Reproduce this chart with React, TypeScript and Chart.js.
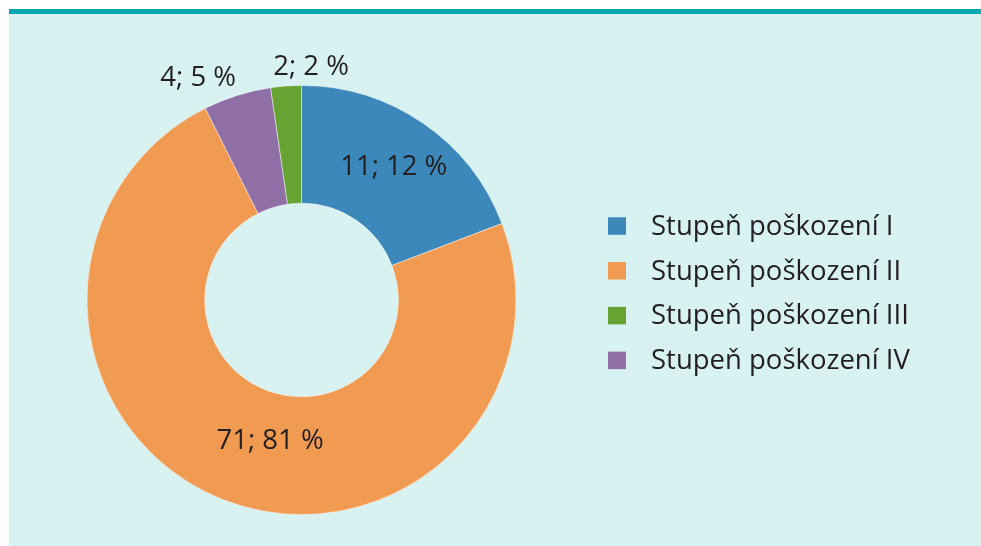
import React, { useEffect, useRef } from "react";
import { Chart, registerables } from "chart.js";

Chart.register(...registerables);

// Legend categories (in legend order)
const categories = [
  "Stupeň poškození I",
  "Stupeň poškození II",
  "Stupeň poškození III",
  "Stupeň poškození IV",
];
// Counts and percentages as printed in the labels
const counts = [11, 71, 2, 4];
const percents = [12, 81, 2, 5];
// Slice shares as they appear in the drawing (percent of the ring)
const sliceShares = [19.2, 73.4, 2.3, 5.1];
const colors = ["#3d88bb", "#f19a52", "#67a333", "#8f6fa6"];
// Clockwise drawing order of the slices, starting at 12 o'clock
const drawOrder = [0, 1, 3, 2];

const FONT = "'Open Sans', sans-serif";
const TEXT = "#231f20";

// label placement: offset from the arc's centre point (inside) or outer edge (outside)
const labelPlacement: Record<number, { outside: boolean; dx: number; dy: number }> = {
  0: { outside: false, dx: 4, dy: -5 },
  1: { outside: false, dx: 25, dy: -4 },
  2: { outside: true, dx: 25, dy: -19 },
  3: { outside: true, dx: -39, dy: -17 },
};

const overlayPlugin = {
  id: "overlay",
  afterDatasetsDraw(chart: any) {
    const ctx = chart.ctx;
    const meta = chart.getDatasetMeta(0);
    ctx.save();
    ctx.fillStyle = TEXT;
    ctx.font = `27.5px ${FONT}`;
    ctx.textAlign = "center";
    ctx.textBaseline = "middle";
    meta.data.forEach((arc: any, i: number) => {
      const cat = drawOrder[i];
      const p = labelPlacement[cat];
      const text = `${counts[cat]}; ${percents[cat]} %`;
      let x: number, y: number;
      if (p.outside) {
        const mid = (arc.startAngle + arc.endAngle) / 2;
        x = arc.x + Math.cos(mid) * arc.outerRadius;
        y = arc.y + Math.sin(mid) * arc.outerRadius;
      } else {
        const c = arc.getCenterPoint();
        x = c.x;
        y = c.y;
      }
      ctx.fillText(text, x + p.dx, y + p.dy);
    });
    // legend
    const lx = 599;
    const ly0 = 212;
    const step = 44.8;
    ctx.textAlign = "left";
    categories.forEach((c, i) => {
      const cy = ly0 + i * step;
      ctx.fillStyle = colors[i];
      ctx.fillRect(lx, cy - 8.75, 18, 17.5);
      ctx.fillStyle = TEXT;
      ctx.fillText(c, lx + 43, cy + 1);
    });
    ctx.restore();
  },
};

export default function App() {
  const ref = useRef<HTMLCanvasElement | null>(null);
  useEffect(() => {
    if (!ref.current) return;
    const chart = new Chart(ref.current, {
      type: "doughnut",
      data: {
        labels: drawOrder.map((i) => categories[i]),
        datasets: [
          {
            data: drawOrder.map((i) => sliceShares[i]),
            backgroundColor: drawOrder.map((i) => colors[i]),
            borderColor: "rgba(255,255,255,0.45)",
            borderWidth: 1,
          },
        ],
      },
      options: {
        animation: false,
        responsive: false,
        maintainAspectRatio: false,
        radius: 214.5,
        cutout: 97,
        layout: { padding: { left: 77, right: 464, top: 70.5, bottom: 30.5 } },
        plugins: {
          legend: { display: false },
          tooltip: { enabled: false },
        },
      },
      plugins: [overlayPlugin],
    });
    return () => chart.destroy();
  }, []);

  return (
    <div style={{ position: "fixed", left: 0, top: 0, right: 0, bottom: 0, background: "#ffffff", overflow: "hidden" }}>
      <div style={{ position: "absolute", left: 9, top: 9, right: 0, height: 5, background: "#00a6b0" }} />
      <div style={{ position: "absolute", left: 9, top: 14, right: 0, bottom: 0, background: "#d8f2f1" }}>
        <canvas ref={ref} width={972} height={532} style={{ display: "block" }} />
      </div>
    </div>
  );
}
